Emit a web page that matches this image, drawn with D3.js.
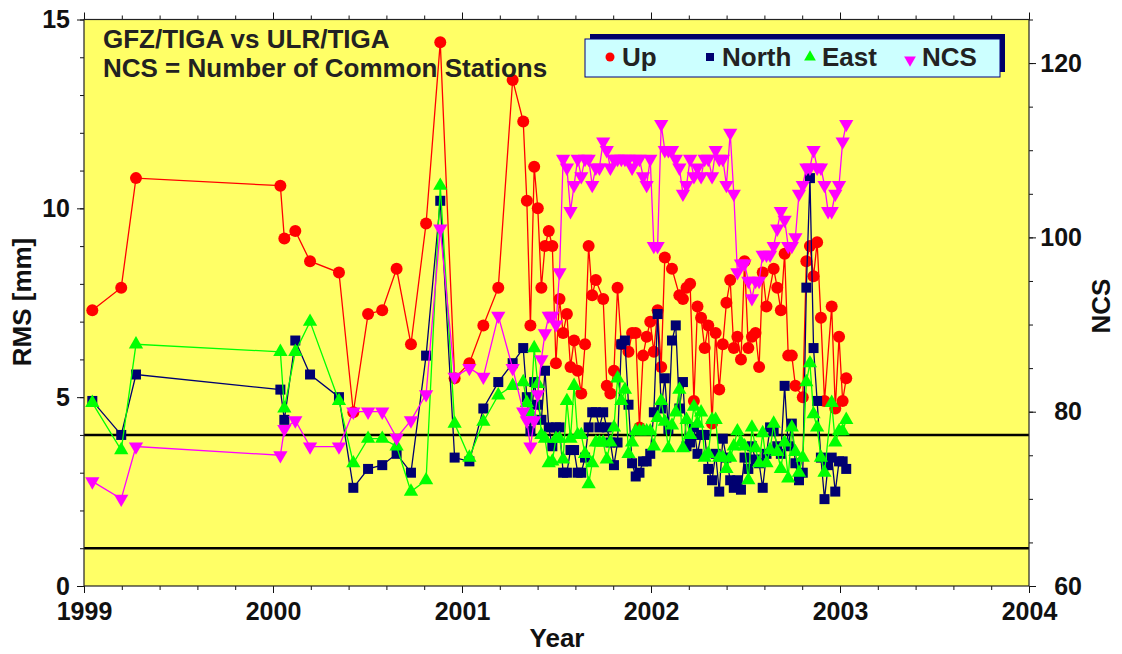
<!DOCTYPE html>
<html>
<head>
<meta charset="utf-8">
<script src="https://cdn.jsdelivr.net/npm/d3@7"></script>
<style>
  body { margin: 0; background: #fff; }
  text { font-family: "Liberation Sans", Arial, sans-serif; font-weight: bold; }
</style>
</head>
<body>
<svg id="chart" width="1122" height="654"></svg>
<script>
// decimal years, monthly first, then weekly solutions
var dates = [
  1999.044, 1999.197, 1999.275, 2000.039, 2000.060, 2000.118, 2000.196, 2000.349, 2000.425, 2000.503,
  2000.578, 2000.654, 2000.730, 2000.810, 2000.885, 2000.961, 2001.039, 2001.113, 2001.192, 2001.268,
  2001.324, 2001.343, 2001.362, 2001.382, 2001.401, 2001.420, 2001.439, 2001.459, 2001.478, 2001.497,
  2001.516, 2001.535, 2001.555, 2001.574, 2001.593, 2001.612, 2001.631, 2001.651, 2001.670, 2001.689,
  2001.708, 2001.727, 2001.747, 2001.766, 2001.785, 2001.804, 2001.823, 2001.843, 2001.862, 2001.881,
  2001.900, 2001.919, 2001.939, 2001.958, 2001.977, 2001.996, 2002.015, 2002.035, 2002.054, 2002.073,
  2002.092, 2002.111, 2002.131, 2002.150, 2002.169, 2002.188, 2002.207, 2002.227, 2002.246, 2002.265,
  2002.284, 2002.303, 2002.323, 2002.342, 2002.361, 2002.380, 2002.399, 2002.419, 2002.438, 2002.457,
  2002.476, 2002.495, 2002.515, 2002.534, 2002.553, 2002.572, 2002.591, 2002.611, 2002.630, 2002.649,
  2002.668, 2002.687, 2002.707, 2002.726, 2002.745, 2002.764, 2002.783, 2002.803, 2002.822, 2002.841,
  2002.860, 2002.879, 2002.899, 2002.918, 2002.937, 2002.956, 2002.975, 2002.995, 2003.014, 2003.033
];

var upRms = [
  7.3, 7.9, 10.8, 10.6, 9.2, 9.4, 8.6, 8.3, 4.6, 7.2,
  7.3, 8.4, 6.4, 9.6, 14.4, 5.5, 5.9, 6.9, 7.9, 13.4,
  12.3, 10.2, 6.9, 11.1, 10.0, 7.9, 9.0, 9.4, 9.0, 5.9,
  7.6, 6.7, 7.2, 5.8, 6.5, 5.7, 5.1, 6.4, 9.0, 7.7,
  8.1, null, 7.6, 5.3, 5.1, 5.7, 7.9, 6.4, null, 6.2,
  6.7, 6.7, 4.2, 6.1, 6.6, 7.0, 6.2, 7.3, 5.8, 8.7,
  null, 8.4, null, 7.7, 7.6, 7.9, 8.0, 4.9, 7.4, 7.1,
  6.3, 6.9, 4.3, 6.7, 5.2, 6.4, 7.5, 8.1, 6.3, 6.6,
  6.0, 8.6, 6.3, 6.6, 6.7, 5.8, 8.3, 7.4, null, 8.4,
  7.9, 7.3, 8.8, 6.1, 6.1, 5.3, null, 5.0, 8.6, 9.0,
  8.2, 9.1, 7.1, 4.9, null, 7.4, 4.7, 6.6, 4.9, 5.5
];

var northRms = [
  4.9, 4.0, 5.6, 5.2, 4.4, 6.5, 5.6, 5.0, 2.6, 3.1,
  3.2, 3.5, 3.0, 6.1, 10.2, 3.4, 3.3, 4.7, 5.4, 5.9,
  6.3, 5.0, 4.1, 5.4, 4.8, 4.4, 5.7, 4.2, 3.7, 4.2,
  4.2, 3.0, 3.0, 3.6, 3.6, 3.0, 3.0, 3.4, 4.2, 4.6,
  4.6, 4.2, 4.6, 4.2, 3.8, 3.2, 3.8, 6.4, 6.5, 4.8,
  3.25, 2.9, 3.0, 3.3, 3.3, 3.5, 4.6, 7.2, 4.7, 5.5,
  4.15, 6.5, 6.9, 4.7, 5.4, 3.7, 3.8, 4.2, 3.5, 4.0,
  4.0, 3.1, 2.8, 3.5, 2.5, 3.9, 3.4, 2.8, 2.6, 2.8,
  2.55, 3.4, 3.1, 3.7, 3.35, 3.25, 2.6, 3.5, 4.2, 4.1,
  3.7, 3.5, 5.3, 3.7, 4.3, 3.25, 2.8, 3.0, 7.9, 10.8,
  6.3, 4.9, 3.4, 2.3, 3.2, 3.4, 2.5, 3.3, 3.3, 3.1
];

var eastRms = [
  4.85, 3.6, 6.4, 6.2, 4.7, 6.2, 7.0, 4.9, 3.25, 3.9,
  3.9, 3.7, 2.5, 2.8, 10.6, 4.3, 3.4, 4.35, 5.05, 5.3,
  5.4, 4.85, 4.6, 6.3, 5.35, 4.0, 3.9, 3.25, 3.3, 3.9,
  3.9, 3.35, 4.9, 3.9, 5.3, 4.0, 4.0, 3.5, 2.7, 3.25,
  3.8, 3.8, 3.8, 3.35, 3.8, 4.2, 5.5, 4.9, 5.2, 3.5,
  3.8, 4.1, 4.1, 4.1, 4.1, 4.1, 3.7, 4.45, 4.9, 4.35,
  3.65, 4.25, 4.6, 5.2, 3.65, 4.4, 4.0, 4.75, 4.3, 4.6,
  3.4, 3.5, 4.4, 4.4, 3.4, 3.4, 3.1, 3.4, 3.7, 4.1,
  3.8, 3.7, 2.8, 4.2, 3.65, 3.25, 4.05, 3.25, 3.6, 4.3,
  3.55, 3.1, 3.8, 2.85, 4.2, 3.55, 3.0, 3.4, 5.4, 5.9,
  4.55, 4.2, 3.4, 3.0, null, 4.85, 3.8, 4.1, 4.1, 4.4
];

var ncs = [
  72, 70, 76, 75, 78, 79, 76, 76, 80, 80,
  80, 77, 79, 82, 101, 84, 85, 84, 91, 85,
  80, 79, 76, 79, 82, 86, 89, 91, 91, 90,
  96, 109, 108, 103, 106, 109, 107, 109, 109, 106,
  108, 108, 111, 110, 108, 109, 109, 109, 109, 109,
  108, 109, 109, 107, 106, 109, 99, 99, 113, 110,
  110, 110, 109, 108, 105, 106, 109, 107, 108, 107,
  109, 109, 107, 110, 109, 109, 106, 112, 105, 96,
  97, 97, 95, 93, 95, 95, 98, 98, 98, 99,
  101, 103, 102, 99, 99, 100, 105, 106, 108, 108,
  110, 108, 108, 106, 103, 103, 105, 106, 111, 113
];

var yearTicks = [1999, 2000, 2001, 2002, 2003, 2004];
var rmsTicks = [0, 5, 10, 15];
var ncsTicks = [60, 80, 100, 120];
var refLines = [4, 1];

var plotL = 84, plotR = 1029, plotT = 19.5, plotB = 586;

var svg = d3.select("#chart");

var x = d3.scaleLinear().domain([1999, 2004]).range([plotL, plotR]);
var y = d3.scaleLinear().domain([0, 15]).range([plotB, plotT]);
var yN = d3.scaleLinear().domain([60, 125]).range([plotB, plotT]);

// plot background
svg.append("rect")
  .attr("x", plotL).attr("y", plotT)
  .attr("width", plotR - plotL).attr("height", plotB - plotT)
  .attr("fill", "#ffff66");

// minor tick positions
var minorYears = d3.range(0, 26).map(function (i) { return 1999 + i * 0.2; });
var minorRms = d3.range(0, 16);
var minorNcs = d3.range(60, 126, 5);

function styleAxis(g) {
  g.select(".domain").remove();
  g.selectAll("line").attr("stroke", "#111").attr("stroke-width", 1);
  g.selectAll("text").attr("font-size", 25).attr("fill", "#111")
    .attr("font-family", "Liberation Sans, Arial, sans-serif");
}

// bottom
svg.append("g").attr("transform", "translate(0," + plotB + ")")
  .call(d3.axisBottom(x).tickValues(minorYears).tickSize(4).tickFormat(""))
  .call(styleAxis);
svg.append("g").attr("transform", "translate(0," + plotB + ")")
  .call(d3.axisBottom(x).tickValues(yearTicks).tickSize(7).tickPadding(9).tickFormat(d3.format("d")))
  .call(styleAxis);

// top
svg.append("g").attr("transform", "translate(0," + plotT + ")")
  .call(d3.axisTop(x).tickValues(minorYears).tickSize(4).tickFormat(""))
  .call(styleAxis);
svg.append("g").attr("transform", "translate(0," + plotT + ")")
  .call(d3.axisTop(x).tickValues(yearTicks).tickSize(7).tickFormat(""))
  .call(styleAxis);

// left
svg.append("g").attr("transform", "translate(" + plotL + ",0)")
  .call(d3.axisLeft(y).tickValues(minorRms).tickSize(4).tickFormat(""))
  .call(styleAxis);
svg.append("g").attr("transform", "translate(" + plotL + ",0)")
  .call(d3.axisLeft(y).tickValues(rmsTicks).tickSize(7).tickPadding(7).tickFormat(d3.format("d")))
  .call(styleAxis);

// right
svg.append("g").attr("transform", "translate(" + plotR + ",0)")
  .call(d3.axisRight(yN).tickValues(minorNcs).tickSize(4).tickFormat(""))
  .call(styleAxis);
svg.append("g").attr("transform", "translate(" + plotR + ",0)")
  .call(d3.axisRight(yN).tickValues(ncsTicks).tickSize(7).tickFormat(d3.format("d")))
  .call(styleAxis)
  .selectAll("text").attr("text-anchor", "end").attr("x", 53);

// reference lines
svg.selectAll(".ref")
  .data(refLines)
  .enter().append("line")
  .attr("class", "ref")
  .attr("x1", plotL).attr("x2", plotR)
  .attr("y1", function (d) { return y(d); })
  .attr("y2", function (d) { return y(d); })
  .attr("stroke", "#000").attr("stroke-width", 2.5);

function pts(values) {
  return dates.map(function (d, i) { return { t: d, v: values[i] }; })
    .filter(function (p) { return p.v != null; });
}

var series = [
  { name: "Up", values: upRms, scale: y, color: "#ff0000", marker: "circle" },
  { name: "North", values: northRms, scale: y, color: "#000070", marker: "square" },
  { name: "East", values: eastRms, scale: y, color: "#00ff00", marker: "up" },
  { name: "NCS", values: ncs, scale: yN, color: "#ff00ff", marker: "down" }
];

function drawMarker(sel, s, size) {
  if (s.marker === "circle") {
    sel.append("circle").attr("r", size.r).attr("fill", s.color);
  } else if (s.marker === "square") {
    sel.append("rect")
      .attr("x", -size.sq / 2).attr("y", -size.sq / 2)
      .attr("width", size.sq).attr("height", size.sq)
      .attr("fill", s.color);
  } else {
    sel.append("path")
      .attr("d", d3.symbol().type(d3.symbolTriangle).size(size.tri)())
      .attr("transform", s.marker === "down" ? "rotate(180)" : null)
      .attr("fill", s.color);
  }
}

series.forEach(function (s) {
  var data = pts(s.values);
  var line = d3.line()
    .x(function (d) { return x(d.t); })
    .y(function (d) { return s.scale(d.v); });

  svg.append("path")
    .datum(data)
    .attr("d", line)
    .attr("fill", "none")
    .attr("stroke", s.color)
    .attr("stroke-width", 1.3);

  svg.append("g").selectAll("g")
    .data(data)
    .enter().append("g")
    .attr("transform", function (d) { return "translate(" + x(d.t) + "," + s.scale(d.v) + ")"; })
    .each(function () { drawMarker(d3.select(this), s, { r: 6, sq: 10, tri: 88 }); });
});

// frame
svg.append("rect")
  .attr("x", plotL).attr("y", plotT)
  .attr("width", plotR - plotL).attr("height", plotB - plotT)
  .attr("fill", "none").attr("stroke", "#222").attr("stroke-width", 1.2);

// title block
svg.append("text").attr("x", 103).attr("y", 48)
  .attr("font-size", 26).attr("fill", "#222").text("GFZ/TIGA vs ULR/TIGA");
svg.append("text").attr("x", 103).attr("y", 77)
  .attr("font-size", 26).attr("fill", "#222").text("NCS = Number of Common Stations");

// legend
svg.append("rect").attr("x", 590).attr("y", 34).attr("width", 415).attr("height", 38)
  .attr("fill", "#000066");
svg.append("rect").attr("x", 585).attr("y", 39).attr("width", 415).attr("height", 38)
  .attr("fill", "#ccffff").attr("stroke", "#000080").attr("stroke-width", 1);

var legendX = [610, 710, 810, 910];
series.forEach(function (s, i) {
  var g = svg.append("g").attr("transform", "translate(" + legendX[i] + "," + (s.marker === "down" ? 60 : 57) + ")");
  drawMarker(g, s, { r: 4.5, sq: 8, tri: 60 });
  svg.append("text")
    .attr("x", legendX[i] + 12).attr("y", 66)
    .attr("font-size", 26).attr("fill", "#222")
    .text(s.name);
});

// axis titles
svg.append("text")
  .attr("x", 557).attr("y", 647)
  .attr("text-anchor", "middle").attr("font-size", 26).attr("fill", "#111")
  .text("Year");
svg.append("text")
  .attr("transform", "translate(31,302) rotate(-90)")
  .attr("text-anchor", "middle").attr("font-size", 26).attr("fill", "#111")
  .text("RMS [mm]");
svg.append("text")
  .attr("transform", "translate(1110,306) rotate(-90)")
  .attr("text-anchor", "middle").attr("font-size", 26).attr("fill", "#111")
  .text("NCS");
</script>
</body>
</html>
